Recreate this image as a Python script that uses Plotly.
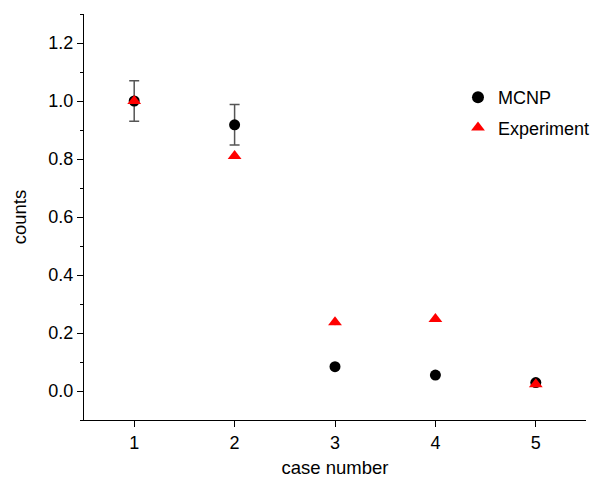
import plotly.graph_objects as go

cases = [1, 2, 3, 4, 5]
mcnp = [1.0, 0.918, 0.084, 0.055, 0.029]
mcnp_err = [0.07, 0.07, 0.0, 0.0, 0.0]
experiment = [1.0, 0.81, 0.237, 0.248, 0.023]
exp_err = [0.01, 0.01, 0.01, 0.01, 0.01]
x_ticks = [1, 2, 3, 4, 5]
y_ticks = [0.0, 0.2, 0.4, 0.6, 0.8, 1.0, 1.2]

fig = go.Figure()
fig.add_trace(go.Scatter(
    x=cases, y=mcnp, mode="markers", name="MCNP", legendgroup="a",
    marker=dict(symbol="circle", size=11, color="black"),
    error_y=dict(type="data", array=mcnp_err, visible=True, color="#555555",
                 thickness=1.5, width=5),
))
fig.add_trace(go.Scatter(
    x=cases, y=experiment, mode="markers", name="Experiment", legendgroup="b",
    marker=dict(symbol="triangle-up", size=12, color="red"),
    error_y=dict(type="data", array=exp_err, visible=True, color="red",
                 thickness=1, width=0),
))

font = "Liberation Sans, Arial, sans-serif"
fig.update_layout(
    width=598, height=482,
    margin=dict(l=76, r=20, t=6, b=70),
    plot_bgcolor="white", paper_bgcolor="white",
    font=dict(family=font, size=18, color="black"),
    showlegend=True,
    legend=dict(x=0.745, y=0.84, xanchor="left", yanchor="top",
                bgcolor="rgba(0,0,0,0)", font=dict(size=18),
                traceorder="grouped", tracegroupgap=4,
                itemsizing="constant"),
    xaxis=dict(
        title=dict(text="case number", font=dict(size=18.5), standoff=9),
        range=[0.5, 5.5], tickvals=x_ticks, ticks="outside", ticklen=6,
        tickwidth=1.3, tickcolor="black", showline=True, linecolor="black",
        linewidth=1.3, showgrid=False, zeroline=False, mirror=False,
        tickfont=dict(size=18),
    ),
    yaxis=dict(
        title=dict(text="counts", font=dict(size=18.5), standoff=16),
        range=[-0.1, 1.3], tickvals=y_ticks, tickformat=".1f",
        ticks="outside", ticklen=6, tickwidth=1.3, tickcolor="black",
        showline=True, linecolor="black", linewidth=1.3, showgrid=False,
        zeroline=False, tickfont=dict(size=18),
        minor=dict(tickvals=[-0.1, 0.1, 0.3, 0.5, 0.7, 0.9, 1.1, 1.3],
                   ticks="outside", ticklen=3, tickcolor="black"),
    ),
)

fig.write_html("out.html")
